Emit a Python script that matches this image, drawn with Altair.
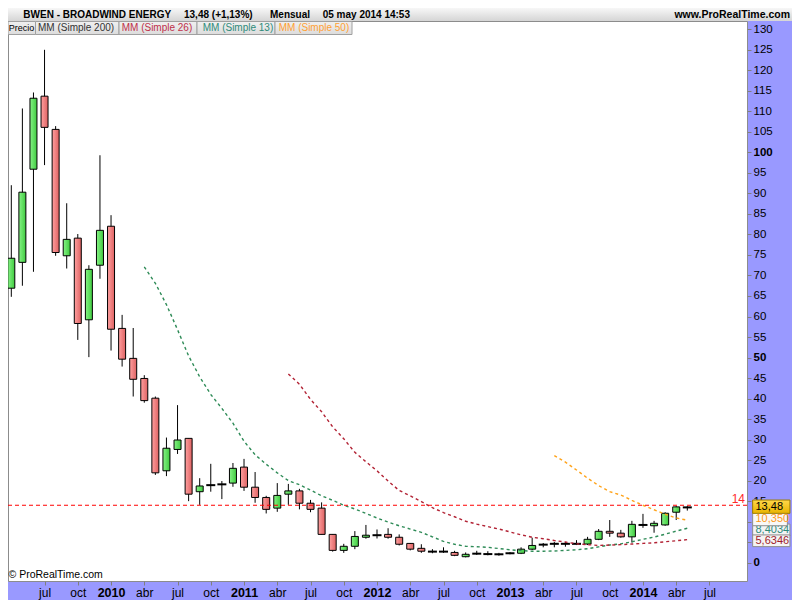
import altair as alt
import pandas as pd

FONT = "Liberation Sans"

# ---------------- data ----------------
months = [
    "2009-04", "2009-05", "2009-06", "2009-07", "2009-08", "2009-09", "2009-10", "2009-11", "2009-12",
    "2010-01", "2010-02", "2010-03", "2010-04", "2010-05", "2010-06", "2010-07", "2010-08", "2010-09", "2010-10", "2010-11", "2010-12",
    "2011-01", "2011-02", "2011-03", "2011-04", "2011-05", "2011-06", "2011-07", "2011-08", "2011-09", "2011-10", "2011-11", "2011-12",
    "2012-01", "2012-02", "2012-03", "2012-04", "2012-05", "2012-06", "2012-07", "2012-08", "2012-09", "2012-10", "2012-11", "2012-12",
    "2013-01", "2013-02", "2013-03", "2013-04", "2013-05", "2013-06", "2013-07", "2013-08", "2013-09", "2013-10", "2013-11", "2013-12",
    "2014-01", "2014-02", "2014-03", "2014-04", "2014-05",
]
opens = [
    66.9, 73.2, 95.9, 113.7, 105.6, 74.8, 79.1, 59.2, 72.5,
    82.0, 57.1, 49.8, 44.9, 40.1, 22.4, 27.6, 30.3, 17.3, 18.9, 19.1, 19.4,
    23.3, 18.4, 15.9, 13.3, 16.7, 17.5, 14.5, 13.3, 6.9, 3.0, 4.0, 6.2,
    6.7, 6.9, 6.2, 4.7, 3.5, 2.7, 2.7, 2.5, 1.46, 2.2, 2.1, 2.05,
    2.3, 2.3, 3.3, 4.4, 4.6, 4.6, 4.6, 4.55, 5.7, 7.65, 7.2, 6.3,
    9.2, 9.0, 9.2, 12.3, 13.48,
]
highs = [
    92.0, 110.7, 114.6, 125.0, 106.4, 87.6, 80.1, 72.5, 99.3,
    84.7, 60.4, 57.2, 45.7, 40.5, 30.5, 38.4, 30.3, 20.6, 24.1, 19.9, 24.3,
    25.3, 22.1, 16.3, 19.4, 19.2, 18.0, 15.3, 14.7, 6.9, 4.6, 7.7, 9.2,
    8.1, 8.4, 6.9, 4.8, 4.5, 3.3, 3.75, 2.9, 2.5, 2.9, 2.8, 2.4,
    2.6, 3.75, 6.1, 4.8, 5.05, 5.05, 5.5, 6.3, 8.2, 10.4, 8.0, 10.2,
    11.9, 10.2, 12.3, 13.8, 13.8,
]
lows = [
    64.8, 67.5, 70.9, 96.9, 74.8, 71.7, 54.3, 50.1, 69.2,
    51.7, 47.8, 40.5, 39.0, 21.4, 21.1, 26.5, 15.0, 14.1, 17.3, 15.5, 18.5,
    17.5, 14.6, 12.0, 12.4, 14.1, 13.0, 12.3, 6.9, 2.7, 2.4, 3.3, 5.85,
    5.9, 5.85, 4.2, 3.0, 2.4, 2.3, 2.4, 1.6, 1.3, 1.9, 1.8, 1.7,
    2.05, 2.1, 3.1, 3.75, 3.75, 3.9, 4.3, 4.3, 5.5, 6.3, 6.1, 4.9,
    8.5, 7.3, 9.0, 10.4, 12.7,
]
closes = [
    74.2, 90.3, 113.2, 106.1, 75.6, 78.8, 58.3, 71.5, 81.0,
    56.9, 49.6, 44.7, 39.5, 21.9, 27.9, 29.9, 16.7, 18.7, 18.9, 19.1, 23.0,
    18.4, 15.9, 13.0, 16.4, 17.5, 14.5, 13.0, 6.9, 3.0, 4.0, 6.4, 6.7,
    6.7, 6.2, 4.5, 3.3, 2.8, 2.7, 2.7, 1.8, 2.05, 2.2, 2.1, 2.05,
    2.3, 3.3, 4.2, 4.4, 4.6, 4.6, 4.6, 5.7, 7.65, 7.2, 6.3, 9.35,
    9.2, 9.6, 12.05, 13.6, 13.48,
]

# moving averages (first month index where each starts)
sma13_start = 12
sma13 = [72.1, 68.1, 62.9, 56.8, 50.4, 45.3, 41.0, 37.6, 34.0, 29.6, 26.3, 24.0, 21.9, 20.0, 19.0,
         17.7, 16.3, 15.2, 14.0, 13.1, 12.0, 10.9, 9.9, 9.0, 8.2, 7.4, 6.3, 5.2, 4.5, 4.0, 3.9,
         3.75, 3.45, 3.15, 2.95, 2.8, 2.8, 2.85, 3.0, 3.15, 3.4, 3.85, 4.3, 4.6, 5.1, 5.7, 6.25,
         6.95, 7.7, 8.4]
sma26_start = 25
sma26 = [46.0, 43.5, 39.8, 36.8, 33.1, 30.2, 26.9, 24.6, 22.4, 19.9, 17.6, 16.3, 14.9, 13.4, 12.2,
         11.2, 10.1, 9.4, 8.8, 8.2, 7.5, 6.8, 6.2, 5.85, 5.4, 5.05, 4.6, 4.4, 4.2, 4.3, 4.4, 4.55,
         4.7, 4.85, 5.1, 5.35, 5.63]
sma50_start = 49
sma50 = [26.1, 24.5, 22.6, 20.6, 18.8, 17.3, 16.5, 15.2, 14.0, 12.9, 11.8, 10.9, 10.35]

hline_value = [14]
last_values = [13.48, 10.35, 8.4034, 5.6346]
last_labels = ["13,48", "10,350", "8,4034", "5,6346"]

x_tick_values = [3, 6, 9, 12, 15, 18, 21, 24, 27, 30, 33, 36, 39, 42, 45, 48, 51, 54, 57, 60, 63]
x_tick_labels = ["jul", "oct", "2010", "abr", "jul", "oct", "2011", "abr", "jul", "oct", "2012", "abr",
                 "jul", "oct", "2013", "abr", "jul", "oct", "2014", "abr", "jul"]
y_tick_values = [0, 5, 10, 15, 20, 25, 30, 35, 40, 45, 50, 55, 60, 65, 70, 75, 80, 85, 90, 95,
                 100, 105, 110, 115, 120, 125, 130]
y_bold_ticks = [0, 50, 100]
y_hidden_labels = [5, 10]   # covered by the value boxes in the reference

# ---------------- tables ----------------
df = pd.DataFrame({"idx": list(range(len(months))), "month": months, "open": opens,
                   "high": highs, "low": lows, "close": closes})
ma13_df = pd.DataFrame({"idx": list(range(sma13_start, sma13_start + len(sma13))), "v": sma13})
ma26_df = pd.DataFrame({"idx": list(range(sma26_start, sma26_start + len(sma26))), "v": sma26})
ma50_df = pd.DataFrame({"idx": list(range(sma50_start, sma50_start + len(sma50))), "v": sma50})
dummy = pd.DataFrame({"d": [0]})

# ---------------- scales / axes ----------------
W, H = 739, 560
TOTAL_W = 784
xs = alt.Scale(domain=[-0.2978, 66.386], nice=False, zero=False, padding=0)
ys = alt.Scale(domain=[-4.46, 132.02], nice=False, zero=False, padding=0)

labels_js = "[" + ",".join("'%s'" % s for s in x_tick_labels) + "]"
vals_js = "[" + ",".join(str(v) for v in x_tick_values) + "]"
year_test = "(datum.value + 3) % 12 == 0"
xaxis = alt.Axis(
    values=x_tick_values, labelExpr=f"{labels_js}[indexof({vals_js}, datum.value)]",
    title=None, grid=False, domain=False, tickSize=4, tickColor="#7f7f7f", tickWidth=1,
    labelFont=FONT, labelColor="black",
    labelFontSize={"condition": {"test": year_test, "value": 12.5}, "value": 12},
    labelFontWeight={"condition": {"test": year_test, "value": "bold"}, "value": "normal"},
    labelBaseline="alphabetic", labelPadding=11.5, labelOverlap=False, labelFlush=False, labelBound=False,
)
bold_js = "[" + ",".join(str(v) for v in y_bold_ticks) + "]"
hidden_js = "[" + ",".join(str(v) for v in y_hidden_labels) + "]"
yaxis = alt.Axis(
    orient="right", values=y_tick_values, title=None, grid=False, domain=False,
    labelExpr=f"indexof({hidden_js}, datum.value) >= 0 ? '' : datum.label",
    tickSize=4, tickColor="#7f7f7f", tickWidth=1, labelFont=FONT, labelFontSize=11.5, labelColor="black",
    labelFontWeight={"condition": {"test": f"indexof({bold_js}, datum.value) >= 0", "value": "bold"}, "value": "normal"},
    labelPadding=2, labelOverlap=False, labelFlush=False, labelBound=False, labelBaseline="middle",
)


def X(field):
    return alt.X(f"{field}:Q", scale=xs, axis=xaxis)


def Y(field):
    return alt.Y(f"{field}:Q", scale=ys, axis=yaxis)


def grad(c0, c1, horizontal=True):
    return {"gradient": "linear", "x1": 0, "y1": 0, "x2": 1 if horizontal else 0, "y2": 0 if horizontal else 1,
            "stops": [{"offset": 0, "color": c0}, {"offset": 1, "color": c1}]}


def text_layer(txt, x, y, size, weight="normal", color="black", align="left"):
    return alt.Chart(dummy).mark_text(
        text=txt, font=FONT, fontSize=size, fontWeight=weight, color=color, align=align, baseline="alphabetic"
    ).encode(x=alt.value(x), y=alt.value(y))


def rect_layer(x0, x1, y0, y1, fill, stroke=None):
    kw = dict(fill=fill)
    if stroke:
        kw.update(stroke=stroke, strokeWidth=1)
    else:
        kw.update(strokeWidth=0)
    return alt.Chart(dummy).mark_rect(**kw).encode(
        x=alt.value(x0), x2=alt.value(x1), y=alt.value(y0), y2=alt.value(y1))


# ---------------- layers ----------------
base = alt.Chart(df)

wicks = base.mark_rule(color="black", strokeWidth=1).encode(x=X("idx"), y=Y("low"), y2=alt.Y2("high:Q"))

up = base.transform_filter("datum.close > datum.open").mark_bar(
    size=7, stroke="black", strokeWidth=1, fill=grad("#86f386", "#3fcb3f")
).encode(x=X("idx"), y=Y("open"), y2=alt.Y2("close:Q"))

down = base.transform_filter("datum.close < datum.open").mark_bar(
    size=7, stroke="black", strokeWidth=1, fill=grad("#ffa0a0", "#de6262")
).encode(x=X("idx"), y=Y("open"), y2=alt.Y2("close:Q"))

doji = base.transform_filter("datum.close == datum.open").mark_tick(
    orient="horizontal", color="black", size=9, thickness=2, opacity=1
).encode(x=X("idx"), y=Y("open"))


def ma_layer(data, color):
    return alt.Chart(data).mark_line(color=color, strokeDash=[3, 3], strokeWidth=1.4).encode(
        x=X("idx"), y=Y("v"))


ma13 = ma_layer(ma13_df, "#2e8b57")
ma26 = ma_layer(ma26_df, "#b22234")
ma50 = ma_layer(ma50_df, "#ffa31a")

hdf = pd.DataFrame({"v": hline_value})
hline = alt.Chart(hdf).mark_rule(color="#ff0000", strokeDash=[4, 3], strokeWidth=1).encode(y=Y("v"))
hlabel = alt.Chart(hdf).mark_text(
    text="14", font=FONT, fontSize=12, color="#ff2a2a", align="right", baseline="alphabetic", dy=-2.5
).encode(x=alt.value(737), y=Y("v"))

# header bar (above the plot area)
header = rect_layer(0, TOTAL_W, -13, 0, grad("#f7f7f7", "#d5d5d5", horizontal=False))
header_texts = [
    text_layer("BWEN - BROADWIND ENERGY", 15.3, -3.5, 10, "bold"),
    text_layer("13,48 (+1,13%)", 176, -3.5, 10, "bold"),
    text_layer("Mensual", 262, -3.5, 10, "bold"),
    text_layer("05 may 2014 14:53", 314.7, -3.5, 10, "bold"),
    text_layer("www.ProRealTime.com", 782, -3.5, 10.5, "bold", align="right"),
]

# legend chips
chip_rects, chip_texts = [], []
for x0, x1, tx, label, color, size in [
    (0, 27.5, 0.8, "Precio", "black", 9),
    (27.5, 111, 30, "MM (Simple 200)", "#333333", 10),
    (111, 189, 113.7, "MM (Simple 26)", "#c0304a", 10),
    (189, 267, 194.7, "MM (Simple 13)", "#2e8b7a", 10),
    (267, 344, 270.7, "MM (Simple 50)", "#ffa033", 10),
]:
    chip_rects.append(rect_layer(x0, x1, 0.5, 13.5, grad("#f0f0f0", "#dcdcdc", horizontal=False), stroke="#a0a0a0"))
    chip_texts.append(text_layer(label, tx, 10, size, color=color))

copyright_txt = text_layer("\u00a9 ProRealTime.com", 0.5, 557, 10.5)

# value boxes on the price axis
box_specs = {
    "8,4034": dict(fill="#f4f4f4", stroke="#8c8c8c", color="#2e8b7a", off=1.8, w=37.3, hh=0.32, cx=763.3),
    "5,6346": dict(fill="#f4f4f4", stroke="#8c8c8c", color="#a01c2c", off=1.2, w=37.3, hh=0.314, cx=763.3),
    "10,350": dict(fill="#f8f8f8", stroke="#8c8c8c", color="#ff9a1a", off=-1.2, w=34.7, hh=0.386, cx=762.0),
    "13,48": dict(fill=grad("#ffd84a", "#e9b400", horizontal=False), stroke="#9c7a00", color="black",
                  off=-0.7, w=37.3, hh=0.357, cx=763.3),
}
boxes = []
for lab in ["8,4034", "5,6346", "10,350", "13,48"]:
    s = box_specs[lab]
    v = last_values[last_labels.index(lab)]
    bdf = pd.DataFrame({"v": [v]})
    shape = f"M-1,-{s['hh']}L1,-{s['hh']}L1,{s['hh']}L-1,{s['hh']}Z"
    boxes.append(alt.Chart(bdf).mark_point(
        shape=shape, size=s["w"] ** 2, filled=True, fill=s["fill"], stroke=s["stroke"], strokeWidth=1,
        opacity=1, yOffset=s["off"]
    ).encode(x=alt.value(s["cx"]), y=Y("v")))
    boxes.append(alt.Chart(bdf).mark_text(
        text=lab, font=FONT, fontSize=11, color=s["color"], align="left", baseline="middle", dy=s["off"]
    ).encode(x=alt.value(747.5), y=Y("v")))

chart = alt.layer(
    wicks, up, down, doji, ma13, ma26, ma50, hline, hlabel,
    copyright_txt, *chip_rects, *chip_texts, header, *header_texts, *boxes,
).properties(
    width=W, height=H, background="#9999ff",
    padding={"left": 0, "top": 13, "right": TOTAL_W - W, "bottom": 19},
    autosize=alt.AutoSizeParams(type="none"),
).configure_view(fill="white", stroke="#8c8c8c", strokeWidth=1)

chart.save("out.html", embed_options={"renderer": "svg", "actions": False})
